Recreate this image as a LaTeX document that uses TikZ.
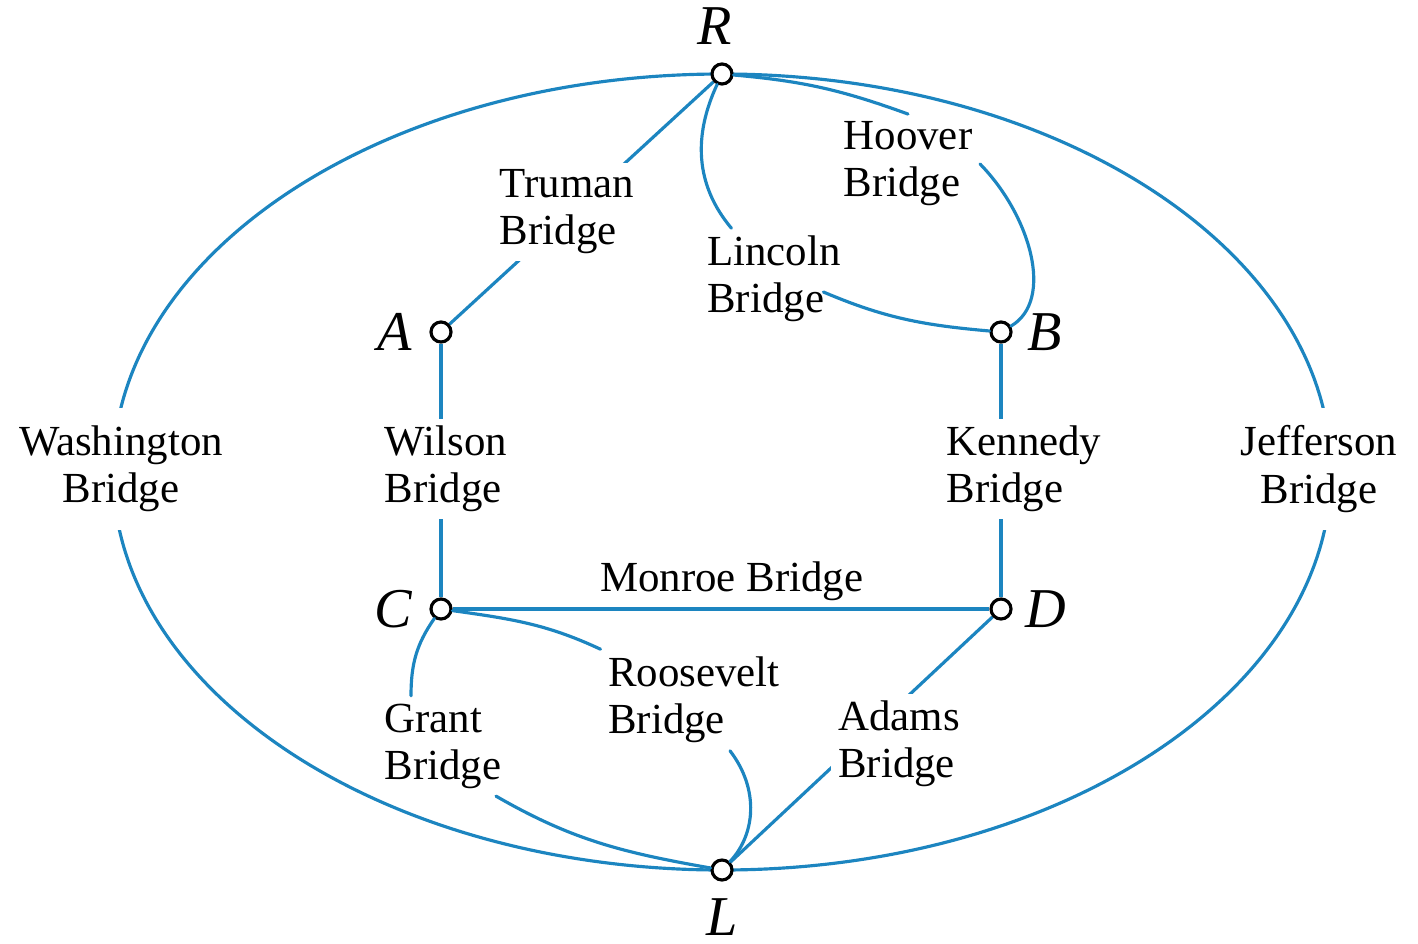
\documentclass[tikz,border=0pt]{standalone}
\usepackage{fontspec}
\setmainfont{Liberation Serif}
\usetikzlibrary{positioning,backgrounds}
\definecolor{bridgeblue}{RGB}{28,133,192}

\tikzset{
  land/.style={circle,draw=black,fill=white,line width=0.9pt,minimum size=0.2cm,inner sep=0pt},
  landname/.style={font=\fontsize{16}{18}\selectfont\itshape,inner sep=0pt},
  bridge/.style={bridgeblue,line width=0.9pt},
  bridgename/.style={fill=white,text=black,inner sep=2pt,align=left,font=\fontsize{12.2}{13.4}\selectfont}
}

\begin{document}
\begin{tikzpicture}[line cap=round]
\useasboundingbox (0,0) rectangle (14.18,9.43);

% land masses
\node[land] (R) at (7.22,8.69) {};
\node[land] (A) at (4.41,6.11) {};
\node[land] (B) at (10.01,6.11) {};
\node[land] (C) at (4.41,3.34) {};
\node[land] (D) at (10.01,3.34) {};
\node[land] (L) at (7.22,0.73) {};

\node[landname,above=0.17cm of R,xshift=-0.07cm] (Rname) {R};
\node[landname,left=0.17cm of A] (Aname) {A};
\node[landname,right=0.14cm of B] (Bname) {B};
\node[landname,left=0.17cm of C] (Cname) {C};
\node[landname,right=0.12cm of D] (Dname) {D};
\node[landname,below=0.16cm of L] (Lname) {L};

% bridge names
\node[bridgename] (truman) at (5.67,7.31) {Truman\\Bridge};
\node[bridgename] (hoover) at (9.08,7.79) {Hoover\\Bridge};
\node[bridgename] (lincoln) at (7.74,6.64) {Lincoln\\Bridge};
\node[bridgename,align=center,inner ysep=5pt] (washington) at (1.21,4.74) {Washington\\Bridge};
\node[bridgename] (wilson) at (4.46,4.74) {Wilson\\Bridge};
\node[bridgename] (kennedy) at (10.24,4.74) {Kennedy\\Bridge};
\node[bridgename,align=center,inner ysep=5pt] (jefferson) at (13.19,4.74) {Jefferson\\Bridge};
\node[bridgename] (grant) at (4.43,1.97) {Grant\\Bridge};
\node[bridgename] (roosevelt) at (6.94,2.43) {Roosevelt\\Bridge};
\node[bridgename] (adams) at (8.99,1.99) {Adams\\Bridge};

\begin{scope}[on background layer]
% outer river banks
\draw[bridge] (R.center) arc[start angle=90,end angle=270,x radius=6.09,y radius=3.98];
\draw[bridge] (R.center) arc[start angle=90,end angle=-90,x radius=6.09,y radius=3.98];
% straight bridges
\draw[bridge] (R) -- (A);
\draw[bridge] (A) -- (C);
\draw[bridge] (B) -- (D);
\draw[bridge] (D) -- (L);
\draw[bridge] (C) -- node[bridgename,fill=none,above,pos=0.52] (monroe) {Monroe Bridge} (D);
\end{scope}

% curved bridges
\draw[bridge] (R) to[out=-115,in=130] (lincoln);
\draw[bridge] ([xshift=-0.25cm,yshift=-0.13cm]lincoln.east) to[out=-23,in=175] (B);
\draw[bridge] (R) to[out=-5,in=160] (hoover.north);
\draw[bridge] (hoover.east) .. controls (10.30,7.28) and (10.55,6.43) .. (B);
\draw[bridge] (C) to[out=-8,in=155] (roosevelt.north west);
\draw[bridge] ([xshift=0.36cm]roosevelt.south) .. controls (7.60,1.53) and (7.55,1.08) .. (L);
\draw[bridge] (C) to[out=-125,in=90] ([xshift=-0.32cm]grant.north);
\draw[bridge] ([xshift=0.53cm]grant.south) to[out=-30,in=170] (L);
\end{tikzpicture}
\end{document}
